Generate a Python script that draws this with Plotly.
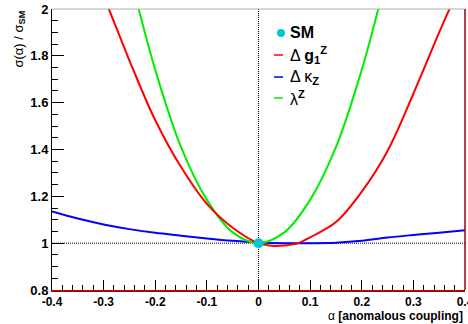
import plotly.graph_objects as go

# ---- data ----
alpha_g1 = [-0.30, -0.29, -0.25, -0.20, -0.15, -0.10, -0.05, 0.00, 0.03, 0.05, 0.077, 0.10, 0.15, 0.20, 0.25, 0.30, 0.35, 0.37, 0.38]
ratio_g1 = [2.05, 2.00, 1.78, 1.525, 1.325, 1.168, 1.066, 1.000, 0.988, 0.990, 1.000, 1.025, 1.090, 1.220, 1.394, 1.638, 1.900, 2.000, 2.05]

alpha_kz = [-0.40, -0.35, -0.30, -0.25, -0.20, -0.15, -0.10, -0.05, 0.00, 0.05, 0.10, 0.15, 0.20, 0.25, 0.30, 0.35, 0.40]
ratio_kz = [1.135, 1.105, 1.080, 1.060, 1.044, 1.032, 1.020, 1.010, 1.003, 1.000, 1.000, 1.002, 1.010, 1.024, 1.035, 1.045, 1.055]

alpha_lz = [-0.24, -0.232, -0.20, -0.15, -0.10, -0.05, 0.00, 0.05, 0.10, 0.15, 0.20, 0.232, 0.24]
ratio_lz = [2.07, 2.00, 1.74, 1.41, 1.185, 1.046, 1.000, 1.046, 1.185, 1.41, 1.74, 2.00, 2.07]

sm_alpha = [0.0]
sm_ratio = [1.0]

x_ticks = [-0.4, -0.3, -0.2, -0.1, 0.0, 0.1, 0.2, 0.3, 0.4]
x_ticktext = ["-0.4", "-0.3", "-0.2", "-0.1", "0", "0.1", "0.2", "0.3", "0.4"]
y_ticks = [0.8, 1.0, 1.2, 1.4, 1.6, 1.8, 2.0]
y_ticktext = ["0.8", "1", "1.2", "1.4", "1.6", "1.8", "2"]

legend_labels = ["<b>SM</b>", "Δ <b>g</b><sub><b>1</b></sub><sup><b>Z</b></sup>",
                 "Δ κ<sub><b>Z</b></sub>", "λ<sup><b>Z</b></sup>"]
legend_colors = ["#00c8d0", "#ff0000", "#0000ff", "#00ee00"]

FONT = "Liberation Sans, Arial, sans-serif"

# plot area in pixels
L, R, T, B = 52, 465, 9, 290
W, H = 468, 324
def px2x(px):
    return (px - L) / (R - L)
def py2y(py):
    return (B - py) / (B - T)

fig = go.Figure()

fig.add_trace(go.Scatter(x=alpha_kz, y=ratio_kz, mode="lines",
                         line=dict(color="#0000ff", width=2, shape="spline"), showlegend=False))
fig.add_trace(go.Scatter(x=alpha_lz, y=ratio_lz, mode="lines",
                         line=dict(color="#00ee00", width=2, shape="spline"), showlegend=False))
fig.add_trace(go.Scatter(x=alpha_g1, y=ratio_g1, mode="lines",
                         line=dict(color="#ff0000", width=2, shape="spline"), showlegend=False))
fig.add_trace(go.Scatter(x=sm_alpha, y=sm_ratio, mode="markers",
                         marker=dict(color="#00c8d0", size=10), showlegend=False, cliponaxis=False))

# reference dotted lines
fig.add_shape(type="line", xref="x", yref="y", x0=-0.4, x1=0.4, y0=1, y1=1,
              line=dict(color="black", width=1, dash="1px,1px"), layer="below")
fig.add_shape(type="line", xref="x", yref="y", x0=0, x1=0, y0=0.8, y1=2,
              line=dict(color="black", width=1, dash="1px,1px"), layer="below")

# frame: top gray, right dark red
fig.add_shape(type="line", xref="paper", yref="paper", x0=0, x1=1, y0=1, y1=1,
              line=dict(color="#b0b0b0", width=1))
fig.add_shape(type="line", xref="paper", yref="paper", x0=1, x1=1, y0=0, y1=1,
              line=dict(color="#a00000", width=1.5))

# manual legend
rows_py = [33, 55, 77, 98]
for i, (lab, col) in enumerate(zip(legend_labels, legend_colors)):
    yy = py2y(rows_py[i])
    if i == 0:
        fig.add_shape(type="circle", xref="paper", yref="paper",
                      x0=px2x(277), x1=px2x(285), y0=py2y(rows_py[i] + 4), y1=py2y(rows_py[i] - 4),
                      fillcolor=col, line=dict(color=col, width=0))
    else:
        fig.add_shape(type="line", xref="paper", yref="paper",
                      x0=px2x(274), x1=px2x(283), y0=yy, y1=yy,
                      line=dict(color=col, width=1.5))
    fig.add_annotation(x=px2x(288), y=yy, xref="paper", yref="paper", text=lab,
                       showarrow=False, xanchor="left", yanchor="middle",
                       font=dict(family=FONT, size=16, color="black"))

# axis titles
fig.add_annotation(x=px2x(19), y=1.0, xref="paper", yref="paper",
                   text="σ(α) / σ<sub><b>SM</b></sub>", textangle=-90, showarrow=False,
                   xanchor="center", yanchor="top", font=dict(family=FONT, size=13, color="black"))
fig.add_annotation(x=1.0, y=py2y(316), xref="paper", yref="paper",
                   text="α <b>[anomalous coupling]</b>", showarrow=False,
                   xanchor="right", yanchor="middle", font=dict(family=FONT, size=12, color="black"))

fig.update_xaxes(range=[-0.4, 0.4], tickvals=x_ticks, ticktext=x_ticktext,
                 ticks="inside", ticklen=10, tickwidth=1, tickcolor="black",
                 minor=dict(ticks="inside", dtick=0.02, tick0=-0.4, ticklen=5, tickcolor="black"),
                 showgrid=False, zeroline=False, showline=True, linecolor="#b00000", linewidth=1.5,
                 ticklabeloverflow="allow", automargin=False,
                 tickfont=dict(family=FONT, size=12, color="black", weight="bold"))
fig.update_yaxes(range=[0.8, 2.0], tickvals=y_ticks, ticktext=y_ticktext,
                 ticks="inside", ticklen=12, tickwidth=1, tickcolor="black",
                 minor=dict(ticks="inside", dtick=0.05, tick0=0.8, ticklen=6, tickcolor="black"),
                 showgrid=False, zeroline=False, showline=True, linecolor="black", linewidth=1,
                 automargin=False,
                 tickfont=dict(family=FONT, size=13, color="black", weight="bold"))

fig.update_layout(width=W, height=H, margin=dict(l=L, r=W - R, t=T, b=H - B),
                  paper_bgcolor="white", plot_bgcolor="white", showlegend=False)

fig.write_html("out.html")
